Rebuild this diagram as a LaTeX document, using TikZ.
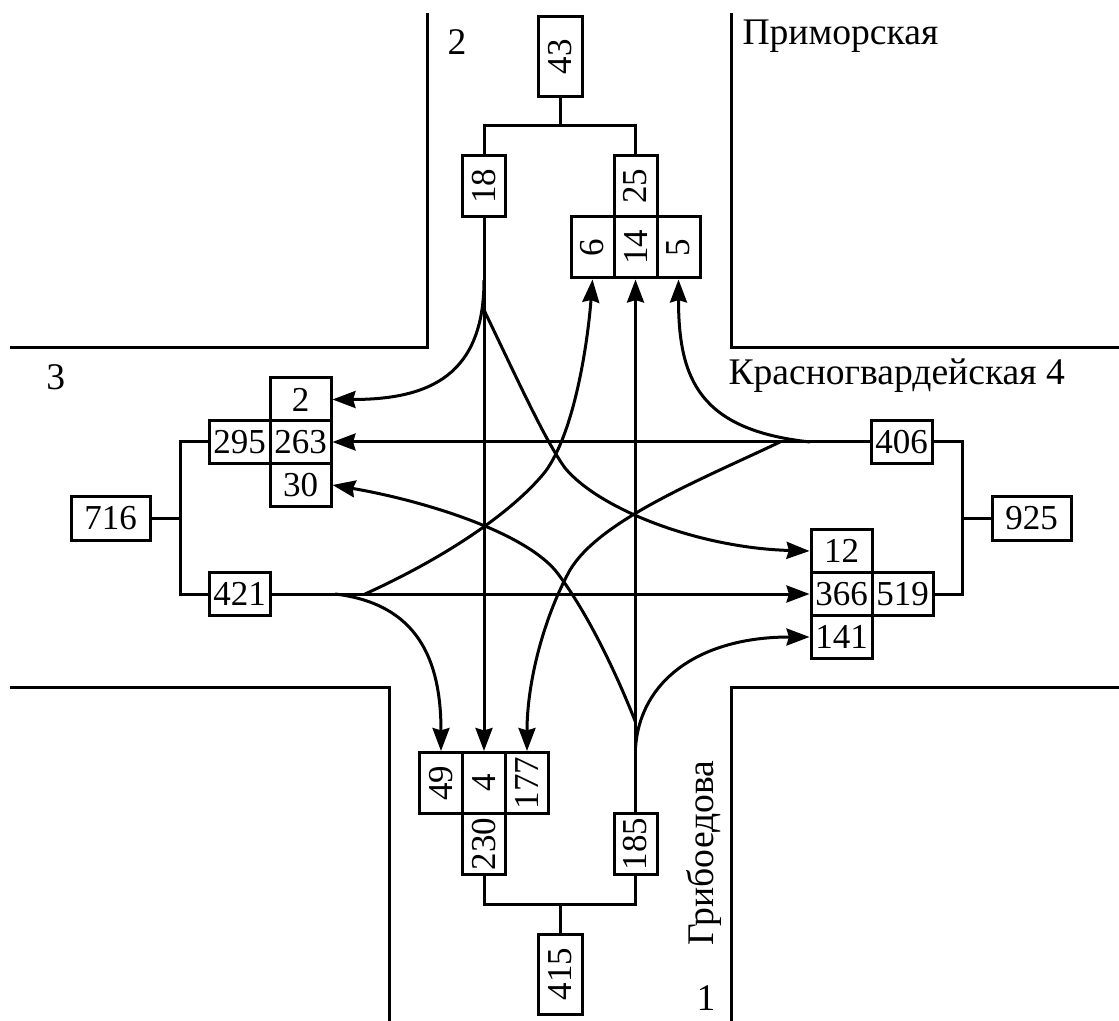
\documentclass[tikz,border=0pt]{standalone}
\usepackage{fontspec}
\setmainfont{Liberation Serif}
\usepackage{graphicx}
\usetikzlibrary{arrows.meta}
\begin{document}
\begin{tikzpicture}[x=0.5pt,y=-0.5pt,line width=1.5pt,
  numfont/.style={font=\fontsize{17.5}{20}\selectfont},
  cellv/.style={draw,numfont,inner sep=0pt,minimum width=21.5pt,minimum height=30.5pt},
  cellh/.style={draw,numfont,inner sep=0pt,minimum width=30.5pt,minimum height=21.5pt},
  bigv/.style={draw,numfont,inner sep=0pt,minimum width=22pt,minimum height=40pt},
  bigh/.style={draw,numfont,inner sep=0pt,minimum width=39.5pt,minimum height=22pt},
  flow/.style={-{Stealth[length=11.5pt,width=8.5pt,inset=1.2pt]}},
  lbl/.style={inner sep=0pt,font=\fontsize{18.8}{22}\selectfont}]
\useasboundingbox (0,0) rectangle (1119,1021);

% roads
\draw (427,13) -- (427,348) -- (10,348);
\draw (731,13) -- (731,348) -- (1119,348);
\draw (10,687) -- (389,687) -- (389,1021);
\draw (1119,687) -- (731,687) -- (731,1021);

% labels
\node[lbl,anchor=base west] (lab2) at (446,55) {2};
\node[lbl,anchor=base west] (labP) at (741,45) {Приморская};
\node[lbl,anchor=base west] (lab3) at (45,390) {3};
\node[lbl,anchor=base west] (labK) at (727,385) {Красногвардейская 4};
\node[lbl,anchor=base west,rotate=90] (labG) at (713,947) {Грибоедова};
\node[lbl,anchor=base west] (lab1) at (695,1010) {1};

% top group
\node[bigv] (b43) at (560,57) {\rotatebox{90}{43}};
\node[cellv] (b18) at (484,186.5) {\rotatebox{90}{18}};
\node[cellv] (b25) at (635.5,186.5) {\rotatebox{90}{25}};
\node[cellv] (b6) at (592.5,247.5) {\rotatebox{90}{6}};
\node[cellv] (b14) at (635.5,247.5) {\rotatebox{90}{14}};
\node[cellv] (b5) at (678.5,247.5) {\rotatebox{90}{5}};
\coordinate (jT) at (560,126);
\draw (b43.south) -- (jT);
\draw (b18.north) |- (jT) -| (b25.north);

% left group
\node[cellh] (b2) at (300.5,399.5) {2};
\node[cellh] (b295) at (239.5,442) {295};
\node[cellh] (b263) at (300.5,442) {263};
\node[cellh] (b30) at (300.5,485) {30};
\node[bigh] (b716) at (110.5,518) {716};
\node[cellh] (b421) at (239.5,594) {421};
\coordinate (jL) at (180,518);
\draw (b716.east) -- (jL);
\draw (b295.west) -| (jL) |- (b421.west);

% right group
\node[cellh] (b406) at (901.5,442) {406};
\node[bigh] (b925) at (1031.5,518) {925};
\node[cellh] (b12) at (841.5,551) {12};
\node[cellh] (b366) at (841.5,594) {366};
\node[cellh] (b519) at (902.5,594) {519};
\node[cellh] (b141) at (841.5,637) {141};
\coordinate (jR) at (962,518);
\draw (b925.west) -- (jR);
\draw (b406.east) -| (jR) |- (b519.east);

% bottom group
\node[cellv] (b49) at (441,783) {\rotatebox{90}{49}};
\node[cellv] (b4) at (484,783) {\rotatebox{90}{4}};
\node[cellv] (b177) at (527,783) {\rotatebox{90}{177}};
\node[cellv] (b230) at (484,844) {\rotatebox{90}{230}};
\node[cellv] (b185) at (635.5,844) {\rotatebox{90}{185}};
\node[bigv] (b415) at (560,974) {\rotatebox{90}{415}};
\coordinate (jB) at (560,904);
\draw (b415.north) -- (jB);
\draw (b230.south) |- (jB) -| (b185.south);

% straight flows
\draw[flow] (b18.south) -- (b4.north);
\draw[flow] (b185.north) -- (b14.south);
\draw[flow] (b406.west) -- (b263.east);
\draw[flow] (b421.east) -- (b366.west);

% branch points
\coordinate (s18a) at (484,280);
\coordinate (s18b) at (484,310);
\coordinate (s406a) at (810,442);
\coordinate (s406b) at (780,442);
\coordinate (s421a) at (335,594);
\coordinate (s421b) at (365,594);
\coordinate (s185a) at (635.5,722);
\coordinate (s185b) at (635.5,748);

% curved flows
\draw[flow] (s18a) .. controls (484,375) and (430,399.5) .. (b2.east);
\draw[flow] (s18b) .. controls (520,385) and (545,440) .. (565,468)
  .. controls (600,510) and (700,548) .. (b12.west);
\draw[flow] (s421b) .. controls (440,560) and (510,515) .. (545,472)
  .. controls (575,432) and (588,340) .. (b6.south);
\draw[flow] (s421a) .. controls (418,604) and (441,660) .. (b49.north);
\draw[flow] (s406a) .. controls (700,430) and (678.5,380) .. (b5.south);
\draw[flow] (s406b) .. controls (700,480) and (600,520) .. (570,570)
  .. controls (545,615) and (527,680) .. (b177.north);
\draw[flow] (s185a) .. controls (615,670) and (585,608) .. (555,570)
  .. controls (520,530) and (420,500) .. (b30.east);
\draw[flow] (s185b) .. controls (640,680) and (700,637) .. (b141.west);
\end{tikzpicture}
\end{document}
